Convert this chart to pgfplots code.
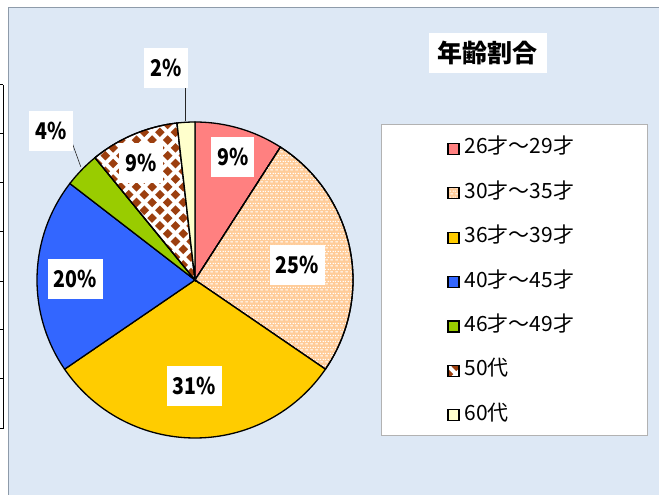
\documentclass[border=0pt]{standalone}
\usepackage{fontspec}
\setmainfont{Noto Sans CJK JP}
\newfontfamily\labelfont[FakeStretch=0.85]{Noto Sans CJK JP}
\usepackage{pgfplots}
\pgfplotsset{compat=1.18}
\usetikzlibrary{patterns}

\definecolor{bg}{HTML}{DDE8F5}
\definecolor{frame}{HTML}{8E9BAA}
\definecolor{c1}{HTML}{FF8080}
\definecolor{c2}{HTML}{FFCC99}
\definecolor{c3}{HTML}{FFCC00}
\definecolor{c4}{HTML}{3366FF}
\definecolor{c5}{HTML}{99CC00}
\definecolor{c6}{HTML}{9C3F0F}
\definecolor{c7}{HTML}{FFFFCC}

% white dashes on peach
\pgfdeclarepatternformonly{peachdash}{\pgfqpoint{0pt}{0pt}}{\pgfqpoint{5pt}{6pt}}{\pgfqpoint{5pt}{6pt}}{%
  \pgfpathrectangle{\pgfqpoint{0.5pt}{0.6pt}}{\pgfqpoint{3pt}{1.2pt}}%
  \pgfpathrectangle{\pgfqpoint{3pt}{3.6pt}}{\pgfqpoint{2pt}{1.2pt}}%
  \pgfpathrectangle{\pgfqpoint{0pt}{3.6pt}}{\pgfqpoint{1pt}{1.2pt}}%
  \pgfusepath{fill}}
% brown diamonds
\pgfdeclarepatternformonly{browndiam}{\pgfqpoint{-1pt}{-1pt}}{\pgfqpoint{16.6pt}{16.6pt}}{\pgfqpoint{15.6pt}{15.6pt}}{%
  \pgfpathmoveto{\pgfqpoint{3.9pt}{-0.9pt}}%
  \pgfpathlineto{\pgfqpoint{8.7pt}{3.9pt}}%
  \pgfpathlineto{\pgfqpoint{3.9pt}{8.7pt}}%
  \pgfpathlineto{\pgfqpoint{-0.9pt}{3.9pt}}%
  \pgfpathclose
  \pgfpathmoveto{\pgfqpoint{11.7pt}{6.9pt}}%
  \pgfpathlineto{\pgfqpoint{16.5pt}{11.7pt}}%
  \pgfpathlineto{\pgfqpoint{11.7pt}{16.5pt}}%
  \pgfpathlineto{\pgfqpoint{6.9pt}{11.7pt}}%
  \pgfpathclose
  \pgfusepath{fill}}

\tikzset{lab/.style={fill=white, inner xsep=6pt, inner ysep=0pt, minimum height=40pt,
    font={\labelfont\bfseries\fontsize{23pt}{23pt}\selectfont}}}

\begin{document}
\begin{tikzpicture}
\useasboundingbox (0,0) rectangle (659pt,495pt);
\fill[white] (0,0) rectangle (659pt,495pt);
\fill[bg] (8pt,0) rectangle (659pt,487pt);
\draw[frame, line width=1pt] (8pt,0) -- (8pt,487pt) -- (659pt,487pt);
% left-edge artifact
\draw[black, line width=1pt] (3pt,66pt) -- (3pt,410pt);
\foreach \yy in {410,361,312,263,213,165,116,66} {\draw[black, line width=1pt] (0pt,\yy pt) -- (3pt,\yy pt);}
% legend frame
\draw[gray!60, line width=0.8pt, fill=white] (381pt,60pt) rectangle (647pt,371pt);
% title
\node[fill=white, minimum width=118pt, minimum height=40pt, inner sep=0pt,
      font=\fontsize{25pt}{25pt}\selectfont\bfseries] at (487.5pt,441.7pt) {年齢割合};

\begin{axis}[
  at={(37pt,57pt)}, anchor=south west,
  scale only axis, width=316pt, height=316pt,
  xmin=-1, xmax=1, ymin=-1, ymax=1,
  hide axis, clip=false,
  legend style={at={(axis description cs:1.2975,0.944)}, anchor=north west,
    draw=none, fill=none, inner sep=0pt, row sep=26.4pt,
    font=\fontsize{21pt}{21pt}\selectfont,
    nodes={inner sep=0pt, text height=14pt, text depth=4pt},
    /tikz/every odd column/.append style={column sep=5pt}},
  legend cell align=left,
  legend image code/.code={\draw[#1] (0pt,-5.5pt) rectangle (11pt,5.5pt);},
]
% counts: 5, 14, 17, 11, 2, 5, 1  (total 55), clockwise from 12 o'clock
\addplot[draw=black, line width=1.3pt, fill=c1, domain=57.273:90, samples=30]
  ({cos(x)},{sin(x)}) -- (axis cs:0,0) -- cycle;
\addlegendentry{26才～29才}
\addplot[draw=black, line width=1.3pt, fill=c2, postaction={pattern=peachdash, pattern color=white}, domain=-34.364:57.273, samples=60]
  ({cos(x)},{sin(x)}) -- (axis cs:0,0) -- cycle;
\addlegendentry{30才～35才}
\addplot[draw=black, line width=1.3pt, fill=c3, domain=-145.636:-34.364, samples=70]
  ({cos(x)},{sin(x)}) -- (axis cs:0,0) -- cycle;
\addlegendentry{36才～39才}
\addplot[draw=black, line width=1.3pt, fill=c4, domain=-217.636:-145.636, samples=50]
  ({cos(x)},{sin(x)}) -- (axis cs:0,0) -- cycle;
\addlegendentry{40才～45才}
\addplot[draw=black, line width=1.3pt, fill=c5, domain=-230.727:-217.636, samples=12]
  ({cos(x)},{sin(x)}) -- (axis cs:0,0) -- cycle;
\addlegendentry{46才～49才}
\addplot[draw=black, line width=1.3pt, fill=white, postaction={pattern=browndiam, pattern color=c6}, domain=-263.455:-230.727, samples=30]
  ({cos(x)},{sin(x)}) -- (axis cs:0,0) -- cycle;
\addlegendentry{50代}
\addplot[draw=black, line width=1.3pt, fill=c7, domain=-270:-263.455, samples=8]
  ({cos(x)},{sin(x)}) -- (axis cs:0,0) -- cycle;
\addlegendentry{60代}

\draw[gray!30!black, line width=0.6pt] (axis cs:-0.780,0.875) -- (axis cs:-0.723,0.717);
\draw[gray!30!black, line width=0.6pt] (axis cs:-0.059,1.215) -- (axis cs:-0.059,1.006);
\node[lab] at (axis cs:0.239,0.777) {9\%};
\node[lab] at (axis cs:0.646,0.095) {25\%};
\node[lab] at (axis cs:-0.003,-0.669) {31\%};
\node[lab] at (axis cs:-0.759,0.008) {20\%};
\node[lab] at (axis cs:-0.911,0.943) {4\%};
\node[lab] at (axis cs:-0.342,0.741) {9\%};
\node[lab] at (axis cs:-0.184,1.342) {2\%};
\end{axis}
\end{tikzpicture}
\end{document}
